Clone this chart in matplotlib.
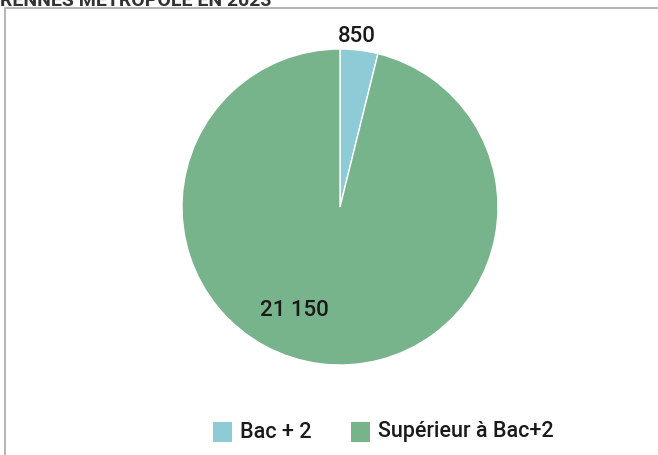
import matplotlib
matplotlib.use("Agg")
import matplotlib.pyplot as plt
from matplotlib.patches import Rectangle

categories = ["Bac + 2", "Supérieur à Bac+2"]
values = [850, 21150]
value_labels = ["850", "21 150"]
colors = ["#8dcbd6", "#78b48b"]

fam = "Roboto"

W, H = 658, 455
fig = plt.figure(figsize=(W / 100, H / 100), dpi=100)
fig.patch.set_facecolor("white")

def fx(px):
    return px / W

def fy(py):
    return 1 - py / H

# border box
fig.patches.append(Rectangle((fx(5), fy(470)), fx(700), (470 - 8) / H,
                             transform=fig.transFigure, fill=False,
                             edgecolor="#a8a8a8", linewidth=1.2))
# title (cropped at the top edge, as in the reference)
fig.text(fx(0), fy(6), "RENNES MÉTROPOLE EN 2023", fontsize=14, fontweight="bold",
         color="#333333", ha="left", va="baseline", family=fam)

cx, cy, r = 340, 207, 158
ax = fig.add_axes([fx(cx - r), fy(cy + r), 2 * r / W, 2 * r / H])
ax.pie(values, colors=colors, startangle=90, counterclock=False,
       wedgeprops=dict(edgecolor="white", linewidth=1.0))
ax.set_aspect("equal")
ax.set_xlim(-1, 1)
ax.set_ylim(-1, 1)

fig.text(fx(357), fy(36), value_labels[0], fontsize=16, fontweight="medium",
         ha="center", va="center", color="#1a1a1a", family=fam)
fig.text(fx(294), fy(311), value_labels[1], fontsize=16, fontweight="medium",
         ha="center", va="center", color="#1a1a1a", family=fam)

# legend
legend_pos = [(213, 240), (351, 378)]
for (sx, tx), lab, col in zip(legend_pos, categories, colors):
    fig.patches.append(Rectangle((fx(sx), fy(442)), fx(19), 20 / H,
                                 transform=fig.transFigure, facecolor=col,
                                 edgecolor="none"))
    fig.text(fx(tx), fy(432), lab, fontsize=15.5, fontweight="medium",
             ha="left", va="center", color="#1a1a1a", family=fam)

fig.savefig("out.png", dpi=100, facecolor="white")
